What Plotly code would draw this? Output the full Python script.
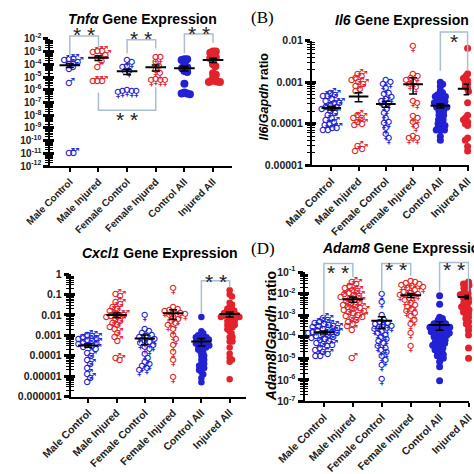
import numpy as np
import plotly.graph_objects as go

W = H = 474
categories = ["Male Control", "Male Injured", "Female Control",
              "Female Injured", "Control All", "Injured All"]

# ---------------- Panel A: Tnfa ----------------
tnf_male_control = [2.5e-4, 2.2e-4, 2.5e-4, 1.6e-4, 1.0e-4, 6e-5, 4e-5, 3.5e-6, 1e-11, 1e-11]
tnf_male_injured = [1e-3, 9e-4, 1e-3, 5e-4, 3e-4, 1.8e-4, 6e-5, 5e-6, 5e-6, 5e-6]
tnf_female_control = [1.4e-4, 1.0e-4, 5e-5, 4.5e-5, 2.2e-5, 7e-7, 5e-7, 5e-7, 4.5e-7, 5e-7]
tnf_female_injured = [2.5e-4, 2.5e-4, 1.0e-4, 5e-5, 2.5e-5, 1.5e-5, 4e-6, 4e-6, 4.5e-6, 4e-6]
tnf_control_all = [2.5e-4, 2.2e-4, 2.5e-4, 1.2e-4, 7e-5, 6e-5, 5e-5, 3e-5, 2.5e-5, 3e-6,
                   5e-7, 6e-7, 4.5e-7, 5e-7]
tnf_injured_all = [1e-3, 1e-3, 8e-4, 4e-4, 3e-4, 3.5e-4, 1e-4, 7e-5, 2e-5, 1.5e-5, 8e-6,
                   5e-6, 4e-6, 4.5e-6, 5e-6, 4e-6]
tnf_mean = [8.5e-5, 3.2e-4, 2.8e-5, 6e-5, 5e-5, 2.2e-4]
tnf_sem = [3e-5, 1.2e-4, 1.2e-5, 3e-5, 2e-5, 8e-5]

# ---------------- Panel B: Il6 ----------------
il6_male_control = [5.6e-4, 5.0e-4, 4.5e-4, 4.5e-4, 4.0e-4, 3.5e-4, 3.2e-4, 3.2e-4, 2.8e-4,
                    2.5e-4, 2.5e-4, 2.2e-4, 2.0e-4, 1.8e-4, 1.6e-4, 1.4e-4, 1.25e-4, 1.1e-4,
                    1.0e-4, 9e-5, 8e-5, 8e-5, 7e-5, 7e-5]
il6_male_injured = [1.6e-3, 1.4e-3, 1.25e-3, 1.1e-3, 1.0e-3, 9e-4, 8e-4, 7e-4, 6e-4, 1.6e-4,
                    1.4e-4, 1.4e-4, 1.1e-4, 1.0e-4, 9e-5, 2.8e-5, 2.5e-5, 2.2e-5]
il6_female_control = [1.0e-3, 9e-4, 8e-4, 6.3e-4, 5e-4, 4.5e-4, 4e-4, 3.5e-4, 3.2e-4, 2.8e-4,
                      2.5e-4, 2.0e-4, 1.6e-4, 1.25e-4, 1.0e-4, 9e-5, 7e-5, 5e-5, 4e-5]
il6_female_injured = [6.6e-3, 1.4e-3, 1.25e-3, 1.1e-3, 1.0e-3, 9e-4, 8e-4, 7e-4, 3.2e-4,
                      2.8e-4, 1.4e-4, 1.25e-4, 1.0e-4, 8e-5, 4.5e-5, 4e-5, 4e-5]
il6_control_all = il6_male_control + il6_female_control
il6_injured_all = il6_male_injured + il6_female_injured
il6_mean = [2.4e-4, 4.5e-4, 3.0e-4, 9.0e-4, 2.7e-4, 7e-4]
il6_sem = [2.5e-5, 1.1e-4, 5e-5, 3.8e-4, 3e-5, 2e-4]

# ---------------- Panel C: Cxcl1 ----------------
cxcl1_male_control = [1.0e-3, 9e-4, 8e-4, 7e-4, 6.3e-4, 5.6e-4, 5e-4, 4.5e-4, 4e-4, 3.5e-4,
                      3.2e-4, 2.8e-4, 2.5e-4, 2.0e-4, 1.4e-4, 1.0e-4, 6.3e-5, 4e-5, 2.5e-5,
                      1.25e-5, 8e-6, 5e-6]
cxcl1_male_injured = [0.1, 0.08, 0.04, 0.032, 0.025, 0.02, 0.016, 0.0125, 0.01, 0.01, 0.009,
                      0.008, 0.0063, 0.005, 0.004, 0.0032, 0.0025, 0.002, 0.00125, 0.0008,
                      0.0005, 8e-5, 6.3e-5]
cxcl1_female_control = [8e-3, 1.6e-3, 1.25e-3, 1.0e-3, 8e-4, 7e-4, 6.3e-4, 5e-4, 4e-4, 3.5e-4,
                        3.2e-4, 2.5e-4, 2e-4, 1.6e-4, 1e-4, 6.3e-5, 4e-5, 3.2e-5, 2.5e-5,
                        2e-5, 1.6e-5]
cxcl1_female_injured = [0.16, 0.02, 0.016, 0.014, 0.0125, 0.011, 0.01, 0.009, 0.008, 0.0063,
                        0.005, 0.004, 0.0032, 0.0025, 0.0016, 8e-4, 5e-4, 2.5e-4, 1.25e-4,
                        5e-5, 7e-6]
cxcl1_control_all = cxcl1_male_control + cxcl1_female_control
cxcl1_injured_all = cxcl1_male_injured + cxcl1_female_injured
cxcl1_mean = [3.2e-4, 1.0e-2, 7e-4, 1.2e-2, 5e-4, 1.1e-2]
cxcl1_sem = [6e-5, 2.5e-3, 3.5e-4, 6e-3, 2e-4, 3e-3]

# ---------------- Panel D: Adam8 ----------------
adam8_male_control = [7e-4, 6e-4, 5e-4, 4.5e-4, 4e-4, 3.5e-4, 3.2e-4, 3e-4, 2.8e-4, 2.5e-4,
                      2.2e-4, 2e-4, 1.8e-4, 1.7e-4, 1.6e-4, 1.5e-4, 1.4e-4, 1.3e-4, 1.2e-4,
                      1.1e-4, 1e-4, 9e-5, 8e-5, 7e-5, 6e-5, 5e-5, 4.5e-5, 4e-5, 3.5e-5, 3e-5,
                      2.5e-5, 2e-5, 1.6e-5, 1.3e-5, 1.2e-5]
adam8_male_injured = [3.5e-2, 2.8e-2, 2.2e-2, 1.8e-2, 1.5e-2, 1.3e-2, 1.1e-2, 1e-2, 9e-3, 8e-3,
                      7e-3, 6e-3, 5e-3, 4.5e-3, 4e-3, 3.5e-3, 3e-3, 2.8e-3, 2.5e-3, 2.2e-3,
                      2e-3, 1.8e-3, 1.6e-3, 1.4e-3, 1.2e-3, 1e-3, 9e-4, 8e-4, 7e-4, 6e-4,
                      5e-4, 4e-4, 3e-4, 2e-4, 1e-5]
adam8_female_control = [8e-3, 3.2e-3, 8e-4, 5e-4, 4e-4, 3.5e-4, 3e-4, 2.8e-4, 2.5e-4, 2.2e-4,
                        2e-4, 1.8e-4, 1.5e-4, 1.2e-4, 1e-4, 8e-5, 6e-5, 5e-5, 4e-5, 3e-5,
                        2.5e-5, 2e-5, 1.5e-5, 1e-5, 7e-6, 4e-6, 9e-7]
adam8_female_injured = [3e-2, 2.8e-2, 2.5e-2, 2.2e-2, 2e-2, 1.8e-2, 1.6e-2, 1.4e-2, 1.2e-2,
                        1e-2, 9e-3, 8e-3, 7e-3, 6e-3, 5e-3, 4e-3, 3e-3, 2.5e-3, 2e-3, 1.5e-3,
                        1.2e-3, 1e-3, 7e-4, 5e-4, 3e-4, 1.2e-4, 3e-5]
adam8_control_all = adam8_male_control + adam8_female_control
adam8_injured_all = adam8_male_injured + adam8_female_injured
adam8_mean = [1.6e-4, 5.5e-3, 5.5e-4, 8.5e-3, 3.5e-4, 7e-3]
adam8_sem = [2.5e-5, 1.5e-3, 3e-4, 1.8e-3, 1.5e-4, 1.2e-3]

# Significance brackets: (group i, group j, label)
tnf_sig = [(0, 1, "* *"), (2, 3, "* *"), (4, 5, "* *"), (1, 3, "* *")]
il6_sig = [(4, 5, "*")]
cxcl1_sig = [(4, 5, "* *")]
adam8_sig = [(0, 1, "* *"), (2, 3, "* *"), (4, 5, "* *")]

BLUE = "#2222d4"
RED = "#e3222b"
FONT = "Liberation Sans, Arial, sans-serif"
SYMS = ["\u2642", "\u2642", "\u2640", "\u2640"]

# layout geometry (pixels) and bracket geometry (y_bar, y_i_end, y_j_end, label_y)
panels = [
    dict(n=1, x0=21, x1=218, c0=42, dc=31.0, ytop=32, ybot=164, dec=(-12, -2),
         groups=[tnf_male_control, tnf_male_injured, tnf_female_control,
                 tnf_female_injured, tnf_control_all, tnf_injured_all],
         mean=tnf_mean, sem=tnf_sem, sig=tnf_sig,
         bgeo=[(29, 51, 42, 28), (33, 47, 42, 32), (27, 47, 36, 26), (106, 88, 82, 116)],
         fmt="pow", fs=10, dot=8),
    dict(n=2, x0=304, x1=474, c0=325, dc=29.5, ytop=34, ybot=163, dec=(-5, -2),
         groups=[il6_male_control, il6_male_injured, il6_female_control,
                 il6_female_injured, il6_control_all, il6_injured_all],
         mean=il6_mean, sem=il6_sem, sig=il6_sig,
         bgeo=[(25, 65, 65, 35)], fmt="dec", fs=10.5, dot=7),
    dict(n=3, x0=43, x1=233, c0=62, dc=30.6, ytop=276, ybot=403, dec=(-6, 0),
         groups=[cxcl1_male_control, cxcl1_male_injured, cxcl1_female_control,
                 cxcl1_female_injured, cxcl1_control_all, cxcl1_injured_all],
         mean=cxcl1_mean, sem=cxcl1_sem, sig=cxcl1_sig,
         bgeo=[(283, 317, 290, 284)], fmt="dec", fs=10.5, dot=6.5),
    dict(n=4, x0=296, x1=474, c0=317, dc=31.3, ytop=274, ybot=408, dec=(-7, -1),
         groups=[adam8_male_control, adam8_male_injured, adam8_female_control,
                 adam8_female_injured, adam8_control_all, adam8_injured_all],
         mean=adam8_mean, sem=adam8_sem, sig=adam8_sig,
         bgeo=[(265, 320, 279, 274), (265, 294, 278, 271), (264, 294, 294, 271)],
         fmt="pow", fs=10.5, dot=7),
]


def swarm(vals, ppd, gap):
    y = np.log10(np.asarray(vals, float)) * ppd
    order = np.argsort(-y, kind="stable")
    cands = [0.0]
    for k in range(1, 200):
        cands += [k * 0.5, -k * 0.5]
    px, py = [], []
    off = np.zeros(len(y))
    for idx in order:
        for c in cands:
            if all((a - c) ** 2 + (b - y[idx]) ** 2 >= gap ** 2 for a, b in zip(px, py)):
                break
        off[idx] = c
        px.append(c)
        py.append(y[idx])
    return off


fig = go.Figure()
layout = dict(width=W, height=H, margin=dict(l=0, r=0, t=0, b=0),
              paper_bgcolor="white", plot_bgcolor="white", showlegend=False,
              shapes=[], annotations=[])

for p in panels:
    n = p["n"]
    xa = "x" if n == 1 else f"x{n}"
    ya = "y" if n == 1 else f"y{n}"
    yo = f"y{n + 4}"
    ppd = (p["ybot"] - p["ytop"]) / (p["dec"][1] - p["dec"][0])
    xr = [(p["x0"] - p["c0"]) / p["dc"], (p["x1"] - p["c0"]) / p["dc"]]
    xdom = [p["x0"] / W, p["x1"] / W]
    ydom = [1 - p["ybot"] / H, 1 - p["ytop"] / H]

    for i, vals in enumerate(p["groups"]):
        color = BLUE if i % 2 == 0 else RED
        if i < 4:
            off = swarm(vals, ppd, 5.0)
            fig.add_trace(go.Scatter(
                x=i + off / p["dc"], y=vals, mode="text", text=[SYMS[i]] * len(vals),
                textposition="middle center",
                textfont=dict(family="DejaVu Sans", size=11.5, color=color, weight="bold"),
                xaxis=xa, yaxis=ya, cliponaxis=False, hoverinfo="skip"))
        else:
            off = swarm(vals, ppd, 3.0)
            fig.add_trace(go.Scatter(
                x=i + off / p["dc"], y=vals, mode="markers",
                marker=dict(size=p["dot"], color=color, line=dict(width=0)),
                xaxis=xa, yaxis=ya, cliponaxis=False, hoverinfo="skip"))

    # mean lines
    mx, my = [], []
    for i, m in enumerate(p["mean"]):
        mx += [i - 0.36, i + 0.36, None]
        my += [m, m, None]
    fig.add_trace(go.Scatter(x=mx, y=my, mode="lines", line=dict(color="black", width=2),
                             xaxis=xa, yaxis=ya, hoverinfo="skip"))
    # SEM error bars
    fig.add_trace(go.Scatter(
        x=list(range(6)), y=p["mean"], mode="markers",
        marker=dict(size=1, color="black", opacity=0),
        error_y=dict(type="data", array=p["sem"], arrayminus=p["sem"], color="black",
                     thickness=1.5, width=4),
        xaxis=xa, yaxis=ya, cliponaxis=False, hoverinfo="skip"))
    # overlay axis (inside ticks) dummy trace
    fig.add_trace(go.Scatter(x=[None], y=[None], xaxis=xa, yaxis=yo, hoverinfo="skip"))

    lo, hi = p["dec"]
    majors = [10.0 ** e for e in range(lo, hi + 1)]
    minors = [k * 10.0 ** e for e in range(lo, hi) for k in range(2, 10)]
    if p["fmt"] == "pow":
        ttext = [f"10<sup>{e}</sup>" for e in range(lo, hi + 1)]
    else:
        ttext = [("{:.%df}" % max(0, -e)).format(10.0 ** e) for e in range(lo, hi + 1)]

    tfont = dict(family=FONT, size=p["fs"], color="#222", weight="bold")
    layout["xaxis" if n == 1 else f"xaxis{n}"] = dict(
        domain=xdom, range=xr, anchor=ya, tickmode="array", tickvals=list(range(6)),
        ticktext=categories, tickangle=-45, ticks="outside", ticklen=4, tickwidth=1.5,
        tickcolor="black", showline=True, linewidth=2, linecolor="black",
        showgrid=False, zeroline=False, tickfont=tfont, fixedrange=True,
        ticklabeloverflow="allow")
    common = dict(domain=ydom, range=[lo, hi], type="log", anchor=xa, showgrid=False,
                  zeroline=False, tickmode="array", tickvals=majors, fixedrange=True)
    layout["yaxis" if n == 1 else f"yaxis{n}"] = dict(
        **common, ticktext=ttext, ticks="outside", ticklen=5, tickwidth=2.5, tickcolor="black",
        showline=True, linewidth=2, linecolor="black", tickfont=tfont,
        ticklabeloverflow="allow",
        minor=dict(tickmode="array", tickvals=minors, ticks="outside", ticklen=3,
                   tickwidth=1, tickcolor="black", showgrid=False))
    layout[f"yaxis{n + 4}"] = dict(
        **common, overlaying=ya, ticks="inside", ticklen=4, tickwidth=2.5, tickcolor="black",
        showline=False, showticklabels=False,
        minor=dict(tickmode="array", tickvals=minors, ticks="inside", ticklen=3,
                   tickwidth=1, tickcolor="black", showgrid=False))

    # significance brackets
    for (i, j, lab), (yb, yi, yj, ly) in zip(p["sig"], p["bgeo"]):
        path = (f"M {i},{1 - yi / H} L {i},{1 - yb / H} "
                f"L {j},{1 - yb / H} L {j},{1 - yj / H}")
        layout["shapes"].append(dict(type="path", path=path, xref=xa, yref="paper",
                                     line=dict(color="#a9bdd3", width=1.5)))
        layout["annotations"].append(dict(
            text=lab, x=(i + j) / 2, y=1 - ly / H, xref=xa, yref="paper", showarrow=False,
            xanchor="center", yanchor="middle",
            font=dict(family=FONT, size=21, color="#222")))


def ann(text, x, y, size, xanchor="center", family=FONT, angle=0, bold=True):
    layout["annotations"].append(dict(
        text=f"<b>{text}</b>" if bold else text, x=x / W, y=1 - y / H, xref="paper",
        yref="paper", showarrow=False, xanchor=xanchor, yanchor="middle", textangle=angle,
        font=dict(family=family, size=size, color="black")))


ann("<i>Tnf\u03b1</i> Gene Expression", 121, 11, 14)
ann("<i>Il6</i> Gene Expression", 401, 12, 14)
ann("<i>Cxcl1</i> Gene Expression", 140, 254, 14)
ann("<i>Adam8</i> Gene Expression", 313, 249, 14, xanchor="left")
ann("(B)", 236, 10, 17, xanchor="left", family="Liberation Serif, Times New Roman, serif",
    bold=False)
ann("(D)", 236, 249, 17, xanchor="left", family="Liberation Serif, Times New Roman, serif",
    bold=False)
ann("<i>Il6</i>/<i>Gapdh</i> ratio", 252, 92, 12.5, angle=-90)
ann("<i>Adam8</i>/<i>Gapdh</i> ratio", 259, 340, 14, angle=-90)

fig.update_layout(**layout)
fig.write_html("out.html", config={"displayModeBar": False},
               post_script="document.body.style.margin='0';document.body.style.overflow='hidden';")
